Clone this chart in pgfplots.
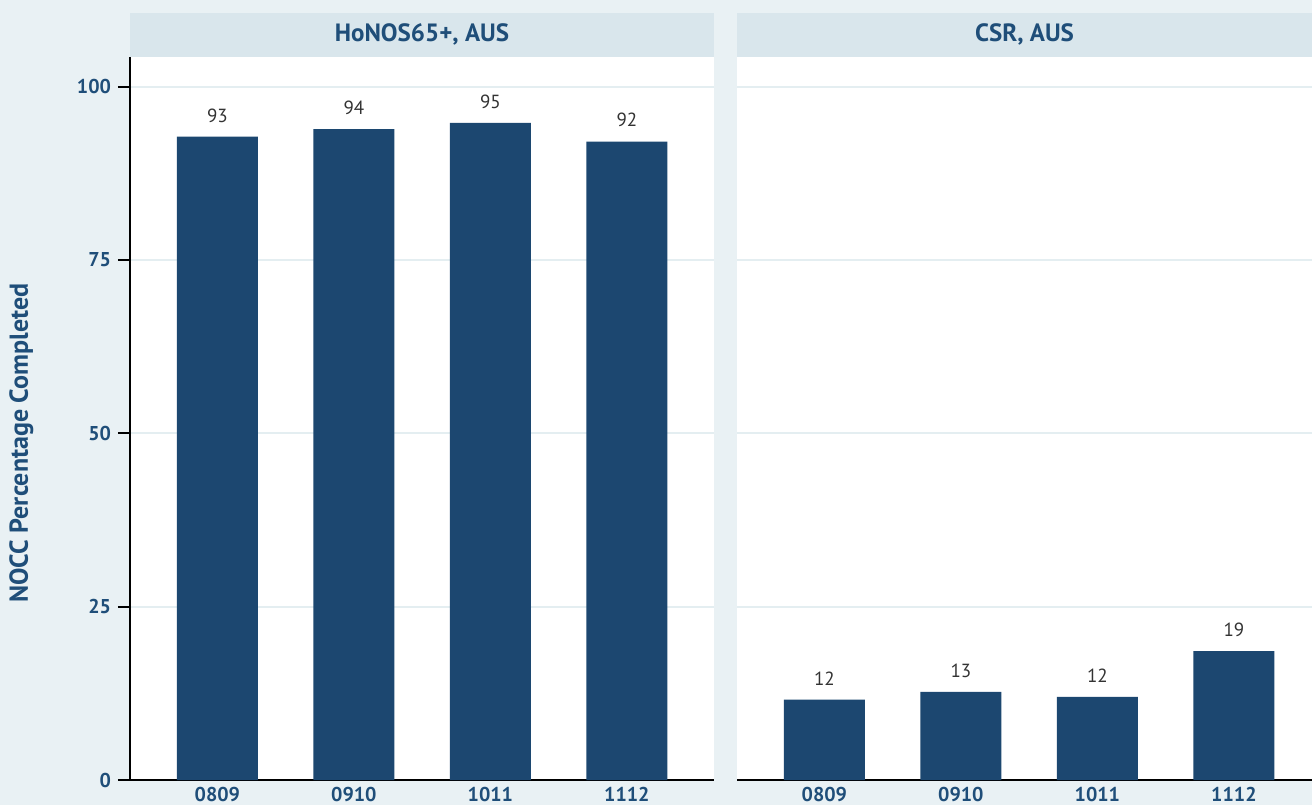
\documentclass[border=0pt]{standalone}
\usepackage{fontspec}
\setmainfont{PT Sans}
\usepackage{pgfplots}
\pgfplotsset{compat=1.18}
\definecolor{bgcol}{HTML}{E9F1F4}
\definecolor{headcol}{HTML}{D9E6EC}
\definecolor{barcol}{HTML}{1C4770}
\definecolor{txtcol}{HTML}{1F4E79}
\definecolor{gridcol}{HTML}{E4EEF1}
\definecolor{valcol}{HTML}{333333}
\pgfplotsset{
  panel/.style={
    scale only axis, height=361.5pt,
    ymin=0, ymax=104.3, xmin=-0.64,
    xtick={0,1,2,3}, xticklabels={0809,0910,1011,1112},
    ytick={0,25,50,75,100},
    ymajorgrids, grid style={gridcol, line width=1pt},
    axis background/.style={fill=white},
    ybar, bar width=40.5pt,
    /pgf/number format/assume math mode=true,
    ticklabel style={font=\bfseries\fontsize{10}{12}\selectfont, text=txtcol},
    xticklabel style={yshift=6pt},
    xtick style={draw=none},
    axis lines*=left,
    axis line style={black, line width=1pt},
    tick align=outside, major tick length=6pt,
    ytick style={black, line width=1pt},
    title style={at={(0.5,1)}, anchor=south, yshift=-6pt, fill=headcol, minimum height=22pt, inner sep=0pt,
      text=txtcol, font=\bfseries\fontsize{12.5}{14}\selectfont},
    nodes near coords={\pgfmathprintnumber[fixed,precision=0,assume math mode=true]{\pgfplotspointmeta}},
    nodes near coords style={font=\fontsize{9.5}{11}\selectfont, text=valcol, inner sep=0pt, yshift=7pt, anchor=south},
  }
}
\begin{document}
\begin{tikzpicture}
\useasboundingbox (0,0) rectangle (656pt,402.5pt);
\fill[bgcol] (0,0) rectangle (656pt,402.5pt);
\begin{axis}[panel, at={(65pt,12.5pt)}, anchor=south west, width=292pt, xmax=3.638,
  title={HoNOS65+, AUS}, title style={minimum width=292pt},
  ylabel={NOCC Percentage Completed},
  ylabel style={at={(axis description cs:-0.186,0.466)}, anchor=center, font=\bfseries\fontsize{13}{15}\selectfont, text=txtcol}]
\addplot[fill=barcol, draw=none] coordinates {(0,92.8) (1,93.9) (2,94.8) (3,92.1)};
\end{axis}
\begin{axis}[panel, at={(368.5pt,12.5pt)}, anchor=south west, width=287.5pt, xmax=3.572,
  title={CSR, AUS}, title style={minimum width=287.5pt},
  yticklabels={}, ytick style={draw=none}, y axis line style={draw=none}]
\addplot[fill=barcol, draw=none] coordinates {(0,11.6) (1,12.7) (2,12.0) (3,18.6)};
\end{axis}
\end{tikzpicture}
\end{document}
